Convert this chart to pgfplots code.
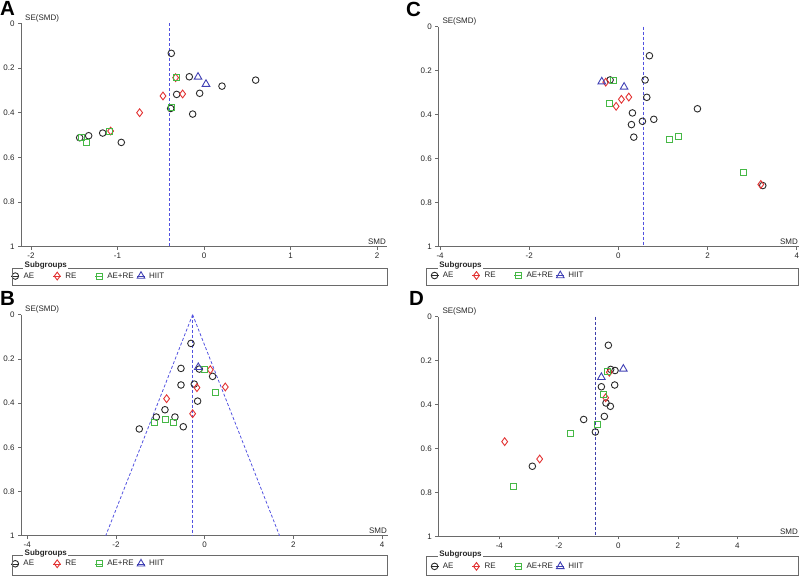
\documentclass[border=0pt]{standalone}
\usepackage{pgfplots}
\pgfplotsset{compat=1.18}
\usepackage{fontspec}
\setmainfont{Liberation Sans}
\definecolor{axgray}{HTML}{6A6A6A}
\definecolor{aecol}{HTML}{2A2A2A}
\definecolor{recol}{HTML}{E23232}
\definecolor{arcol}{HTML}{46B846}
\definecolor{hicol}{HTML}{4040B4}
\definecolor{dashcol}{HTML}{5252E0}
\definecolor{dashd}{HTML}{3E3EAA}
\pgfplotsset{
  funnel/.style={
    scale only axis, clip=false,
    y dir=reverse, ymin=0, ymax=1, ytick={0,0.2,0.4,0.6,0.8,1},
    axis x line=bottom, axis y line=left,
    axis line style={-, draw=axgray, line width=0.9pt},
    tick style={draw=axgray, line width=0.7pt},
    tick align=outside, major tick length=3pt,
    ticklabel style={font=\fontsize{8}{9}\selectfont, text=black!85},
    /pgf/number format/assume math mode=true,
    legend columns=4,
    legend image code/.code={\path (0pt,0pt) -- (8pt,0pt); \draw[##1] plot coordinates {(4pt,0pt)};},
    legend style={draw=none, fill=none, inner sep=0pt, outer sep=0pt, anchor=west,
      font=\fontsize{8}{9}\selectfont, text=black!85,
      nodes={inner sep=1pt, text width=28.5pt, align=left},
      /tikz/every odd column/.append style={column sep=3pt},
      /tikz/every even column/.append style={column sep=0pt}},
  },
  ae/.style={only marks, mark=o, color=aecol, mark size=3.3pt, mark options={line width=0.9pt}},
  re/.style={only marks, mark=diamond, color=recol, mark size=3.9pt, mark options={line width=0.9pt}},
  ar/.style={only marks, mark=square, color=arcol, mark size=3pt, mark options={line width=0.9pt}},
  hi/.style={only marks, mark=triangle, color=hicol, mark size=4.4pt, mark options={line width=0.9pt}},
  dl/.style={color=dashcol, draw=dashcol, line width=0.8pt, dash pattern=on 3pt off 2pt, mark=none},
}
\newcommand{\lbls}{%
  \node[anchor=south west, inner sep=1pt, font=\fontsize{8}{9}\selectfont, text=black!85, xshift=3pt] at (axis description cs:0,1) {SE(SMD)};
  \node[anchor=south east, inner sep=1pt, font=\fontsize{8}{9}\selectfont, text=black!85, yshift=1pt] at (axis description cs:1,0) {SMD};
}
\begin{document}
\begin{tikzpicture}
\useasboundingbox (0pt,0pt) rectangle (800pt,576pt);
\tikzset{panel/.style={font=\fontsize{20.5}{21}\selectfont\bfseries, inner sep=0pt, anchor=base west}}
\node[panel] at (0pt,560.5pt) {A};
\node[panel] at (406pt,559.5pt) {C};
\node[panel] at (0pt,270pt) {B};
\node[panel] at (409pt,270pt) {D};

% ---------------- A ----------------
\begin{axis}[funnel, at={(21pt,329.3pt)}, anchor=south west, width=366pt, height=223.3pt,
  xmin=-2.115, xmax=2.115, xtick={-2,-1,0,1,2},
  legend style={at={(axis description cs:-0.027,-0.1315)}}]
\addplot[ae] coordinates {(-0.378,0.134) (-0.17,0.239) (-0.316,0.318) (-0.05,0.313) (0.208,0.281) (0.597,0.254) (-0.131,0.406) (-0.385,0.381) (-1.171,0.491) (-1.333,0.503) (-1.437,0.512) (-0.956,0.533)};
\addplot[re] coordinates {(-0.328,0.243) (-0.474,0.325) (-0.247,0.316) (-0.744,0.400) (-1.079,0.482)};
\addplot[ar] coordinates {(-0.324,0.243) (-0.374,0.376) (-1.09,0.484) (-1.418,0.510) (-1.356,0.534)};
\addplot[hi] coordinates {(-0.069,0.240) (0.023,0.272)};
\legend{AE,RE,AE+RE,HIIT}
\addplot[dl] coordinates {(-0.397,0) (-0.397,1)};
\lbls
\end{axis}

% ---------------- C ----------------
\begin{axis}[funnel, at={(438.3pt,329.3pt)}, anchor=south west, width=360.7pt, height=220pt,
  xmin=-4.04, xmax=4.05, xtick={-4,-2,0,2,4},
  legend style={at={(axis description cs:-0.022,-0.131)}}]
\addplot[ae] coordinates {(0.695,0.132) (-0.187,0.242) (0.598,0.242) (0.636,0.321) (0.314,0.392) (0.292,0.445) (0.538,0.430) (0.793,0.421) (0.344,0.502) (1.772,0.373) (3.237,0.722)};
\addplot[re] coordinates {(-0.284,0.252) (-0.052,0.362) (0.067,0.330) (0.232,0.320) (3.193,0.717)};
\addplot[ar] coordinates {(-0.105,0.245) (-0.202,0.350) (1.136,0.514) (1.346,0.500) (2.796,0.662)};
\addplot[hi] coordinates {(-0.374,0.250) (0.127,0.274)};
\legend{AE,RE,AE+RE,HIIT}
\addplot[dl] coordinates {(0.568,0) (0.568,1)};
\lbls
\end{axis}

% ---------------- B ----------------
\begin{axis}[funnel, at={(21pt,40.3pt)}, anchor=south west, width=367pt, height=221pt,
  xmin=-4.14, xmax=4.135, xtick={-4,-2,0,2,4},
  legend style={at={(axis description cs:-0.027,-0.127)}}]
\addplot[ae] coordinates {(-0.308,0.130) (-0.533,0.243) (-0.12,0.246) (0.18,0.279) (-0.533,0.318) (-0.233,0.314) (-0.158,0.391) (-0.894,0.430) (-1.089,0.463) (-0.669,0.463) (-0.481,0.507) (-1.473,0.517)};
\addplot[re] coordinates {(0.128,0.249) (0.466,0.327) (-0.173,0.330) (-0.857,0.380) (-0.27,0.448)};
\addplot[ar] coordinates {(-0.015,0.247) (0.24,0.351) (-0.894,0.472) (-0.699,0.486) (-1.134,0.489)};
\addplot[hi] coordinates {(-0.143,0.238)};
\legend{AE,RE,AE+RE,HIIT}
\addplot[dl] coordinates {(-0.27,0) (-0.27,1)};
\addplot[dl] coordinates {(-0.27,0) (-2.23,1)};
\addplot[dl] coordinates {(-0.27,0) (1.69,1)};
\lbls
\end{axis}

% ---------------- D ----------------
\begin{axis}[funnel, at={(438.3pt,39.7pt)}, anchor=south west, width=360.7pt, height=219.6pt,
  xmin=-6.05, xmax=6.07, xtick={-4,-2,0,2,4},
  legend style={at={(axis description cs:-0.022,-0.137)}}]
\addplot[ae] coordinates {(-0.336,0.130) (-0.258,0.240) (-0.112,0.245) (-0.571,0.319) (-0.123,0.311) (-0.415,0.393) (-0.269,0.408) (-0.471,0.454) (-1.165,0.468) (-0.773,0.525) (-2.89,0.681)};
\addplot[re] coordinates {(-0.303,0.253) (-0.426,0.369) (-3.82,0.569) (-2.644,0.648)};
\addplot[ar] coordinates {(-0.381,0.250) (-0.515,0.355) (-0.695,0.489) (-1.625,0.531) (-3.54,0.771)};
\addplot[hi] coordinates {(-0.571,0.276) (0.168,0.238)};
\legend{AE,RE,AE+RE,HIIT}
\addplot[dl, color=dashd, draw=dashd] coordinates {(-0.773,0) (-0.773,1)};
\lbls
\end{axis}

% legend frames
\tikzset{lframe/.style={draw=axgray, line width=0.7pt}, lttl/.style={anchor=base west, fill=white, inner sep=1.5pt, font=\fontsize{8}{9}\selectfont\bfseries, text=black!85}}
\draw[lframe] (12pt,308pt) rectangle (387pt,291pt);
\node[lttl] at (23pt,308pt) {Subgroups};
\draw[lframe] (426.7pt,308pt) rectangle (798pt,291pt);
\node[lttl] at (437.7pt,308pt) {Subgroups};
\draw[lframe] (12pt,20.3pt) rectangle (387pt,1pt);
\node[lttl] at (23pt,20.3pt) {Subgroups};
\draw[lframe] (426.7pt,19.7pt) rectangle (798pt,1pt);
\node[lttl] at (437.7pt,19.7pt) {Subgroups};
\end{tikzpicture}
\end{document}
